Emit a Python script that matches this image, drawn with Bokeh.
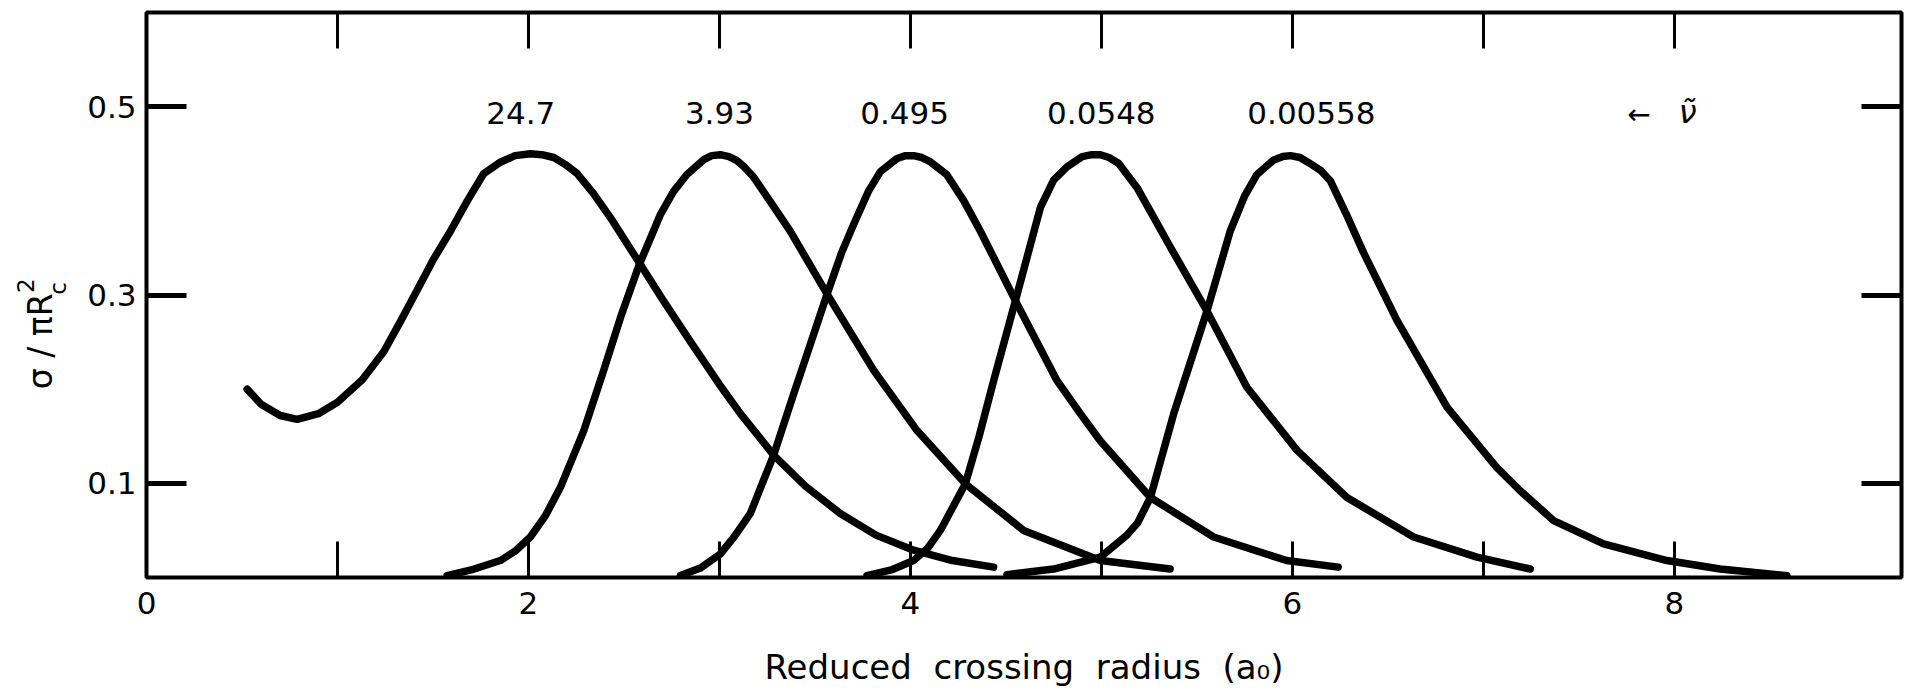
import math

from bokeh.embed import file_html
from bokeh.models import FixedTicker, Label, LinearAxis, Range1d
from bokeh.plotting import figure
from bokeh.resources import INLINE

# Relative velocity attached to each curve
curve_labels = ["24.7", "3.93", "0.495", "0.0548", "0.00558"]
label_x = [1.96, 3.00, 3.97, 5.00, 6.10]
label_y = 0.493

# Cross section sigma / (pi Rc^2) versus reduced crossing radius (a0)
x_247 = [0.527, 0.60, 0.70, 0.789, 0.90, 1.00, 1.13, 1.243, 1.33, 1.417, 1.50,
         1.592, 1.68, 1.766, 1.853, 1.93, 2.01, 2.07, 2.133, 2.19, 2.255, 2.34,
         2.43, 2.578, 2.70, 2.85, 3.00, 3.11, 3.284, 3.45, 3.633, 3.82, 4.017,
         4.22, 4.436]
y_247 = [0.200, 0.184, 0.172, 0.168, 0.174, 0.186, 0.210, 0.240, 0.272, 0.305,
         0.337, 0.368, 0.400, 0.429, 0.441, 0.448, 0.450, 0.449, 0.446, 0.439,
         0.429, 0.408, 0.382, 0.335, 0.296, 0.250, 0.205, 0.174, 0.130, 0.097,
         0.068, 0.045, 0.029, 0.018, 0.011]

x_393 = [1.574, 1.70, 1.853, 1.93, 2.01, 2.09, 2.168, 2.29, 2.394, 2.482, 2.578,
         2.69, 2.76, 2.83, 2.92, 2.96, 3.005, 3.05, 3.09, 3.13, 3.18, 3.27, 3.37,
         3.564, 3.808, 4.035, 4.288, 4.593, 4.995, 5.36]
y_393 = [0.002, 0.008, 0.018, 0.028, 0.043, 0.066, 0.096, 0.156, 0.220, 0.276,
         0.331, 0.385, 0.410, 0.428, 0.444, 0.448, 0.449, 0.447, 0.443, 0.436,
         0.425, 0.398, 0.368, 0.301, 0.220, 0.156, 0.0995, 0.050, 0.018, 0.009]

x_0495 = [2.796, 2.90, 3.005, 3.08, 3.162, 3.284, 3.389, 3.48, 3.564, 3.64,
          3.703, 3.78, 3.843, 3.93, 3.975, 4.017, 4.06, 4.10, 4.19, 4.28, 4.366,
          4.55, 4.768, 4.89, 4.995, 5.257, 5.588, 5.97, 6.24]
y_0495 = [0.002, 0.010, 0.025, 0.044, 0.068, 0.130, 0.195, 0.250, 0.301, 0.345,
          0.375, 0.410, 0.431, 0.445, 0.448, 0.448, 0.446, 0.442, 0.428, 0.400,
          0.368, 0.294, 0.209, 0.174, 0.145, 0.085, 0.043, 0.018, 0.011]

x_00548 = [3.773, 3.90, 4.017, 4.09, 4.157, 4.288, 4.36, 4.436, 4.55, 4.681,
           4.75, 4.82, 4.90, 4.95, 4.995, 5.04, 5.09, 5.187, 5.27, 5.361, 5.553,
           5.762, 6.025, 6.286, 6.635, 6.967, 7.246]
y_00548 = [0.002, 0.008, 0.018, 0.031, 0.050, 0.0995, 0.150, 0.209, 0.294, 0.393,
           0.422, 0.436, 0.447, 0.449, 0.449, 0.446, 0.440, 0.414, 0.384, 0.351,
           0.283, 0.202, 0.135, 0.085, 0.043, 0.0216, 0.009]

x_000558 = [4.506, 4.75, 4.995, 5.134, 5.19, 5.257, 5.379, 5.47, 5.553, 5.675,
            5.75, 5.815, 5.90, 5.95, 5.99, 6.04, 6.09, 6.15, 6.20, 6.28, 6.373,
            6.548, 6.81, 7.07, 7.194, 7.368, 7.63, 7.962, 8.24, 8.59]
y_000558 = [0.003, 0.009, 0.0216, 0.045, 0.058, 0.085, 0.174, 0.231, 0.283, 0.368,
            0.405, 0.428, 0.443, 0.447, 0.448, 0.446, 0.440, 0.432, 0.421, 0.387,
            0.345, 0.273, 0.181, 0.117, 0.092, 0.0605, 0.0357, 0.018, 0.009,
            0.002]

curves = [(x_247, y_247), (x_393, y_393), (x_0495, y_0495),
          (x_00548, y_00548), (x_000558, y_000558)]

x_major = [0, 2, 4, 6, 8]
x_minor = [1, 3, 5, 7]
y_ticks = [0.1, 0.3, 0.5]

FONT = "DejaVu Sans"
NB = "\u00a0"

p = figure(width=1905, height=691, output_backend="svg", toolbar_location=None,
           x_range=Range1d(0, 9.19), y_range=Range1d(0, 0.6),
           min_border_left=146, min_border_right=4, min_border_top=12,
           min_border_bottom=114)
p.grid.visible = False
p.background_fill_color = "white"
p.border_fill_color = "white"
p.outline_line_color = "black"
p.outline_line_width = 4


def style_x(axis, show_labels):
    axis.ticker = FixedTicker(ticks=x_major, minor_ticks=x_minor)
    axis.axis_line_color = None
    axis.major_tick_in = 36
    axis.major_tick_out = 0
    axis.minor_tick_in = 36
    axis.minor_tick_out = 0
    axis.major_tick_line_width = 3
    axis.minor_tick_line_width = 3
    axis.major_tick_line_color = "black"
    axis.minor_tick_line_color = "black"
    if show_labels:
        axis.major_label_text_font = FONT
        axis.major_label_text_font_size = "31px"
        axis.major_label_text_color = "black"
        axis.major_label_standoff = 14
    else:
        # frame ticks only, no numbers on this side
        axis.major_label_text_color = None
        axis.major_label_text_font_size = "1px"
        axis.major_label_standoff = 0


def style_y(axis, show_labels):
    axis.ticker = FixedTicker(ticks=y_ticks, minor_ticks=[])
    axis.axis_line_color = None
    axis.major_tick_in = 40
    axis.major_tick_out = 0
    axis.minor_tick_line_color = None
    axis.major_tick_line_width = 5
    axis.major_tick_line_color = "black"
    if show_labels:
        axis.major_label_text_font = FONT
        axis.major_label_text_font_size = "31px"
        axis.major_label_text_color = "black"
        axis.major_label_standoff = 10
    else:
        axis.major_label_text_color = None
        axis.major_label_text_font_size = "1px"
        axis.major_label_standoff = 0


style_x(p.xaxis[0], True)
p.xaxis[0].axis_label = NB.join(["Reduced", "", "crossing", "", "radius", "", "(a₀)"])
p.xaxis[0].axis_label_text_font = FONT
p.xaxis[0].axis_label_text_font_size = "34px"
p.xaxis[0].axis_label_text_font_style = "normal"
p.xaxis[0].axis_label_text_color = "black"
p.xaxis[0].axis_label_standoff = 30

style_y(p.yaxis[0], True)

top_axis = LinearAxis()
style_x(top_axis, False)
p.add_layout(top_axis, "above")

right_axis = LinearAxis()
style_y(right_axis, False)
p.add_layout(right_axis, "right")

for xs, ys in curves:
    p.line(xs, ys, line_width=7.5, line_color="black", line_join="round",
           line_cap="round")

for text, lx in zip(curve_labels, label_x):
    p.add_layout(Label(x=lx, y=label_y, text=text, text_font=FONT,
                       text_font_size="31px", text_align="center",
                       text_baseline="middle", text_color="black"))

# velocity marker at upper right
p.add_layout(Label(x=7.815, y=0.4915, text="←", text_font=FONT,
                   text_font_size="28px", text_align="center",
                   text_baseline="middle", text_color="black"))
p.add_layout(Label(x=8.07, y=0.494, text="ν̃", text_font=FONT,
                   text_font_size="32px", text_font_style="italic",
                   text_align="center", text_baseline="middle",
                   text_color="black"))

# y axis title  sigma / pi R_c^2, written upward; kept in the left side panel
# so it is not clipped to the plotting frame
p.add_layout(Label(x=-0.555, y=0.2, text="σ" + NB + "/" + NB + "πR",
                   text_font=FONT, text_font_size="33px",
                   angle=math.pi / 2, text_align="left",
                   text_baseline="middle", text_color="black"), "left")
p.add_layout(Label(x=-0.636, y=0.31, text="2", text_font=FONT,
                   text_font_size="23px", angle=math.pi / 2,
                   text_align="center", text_baseline="middle",
                   text_color="black"), "left")
p.add_layout(Label(x=-0.462, y=0.307, text="c", text_font=FONT,
                   text_font_size="23px", angle=math.pi / 2,
                   text_align="center", text_baseline="middle",
                   text_color="black"), "left")

open("out.html", "w").write(file_html(p, INLINE))
